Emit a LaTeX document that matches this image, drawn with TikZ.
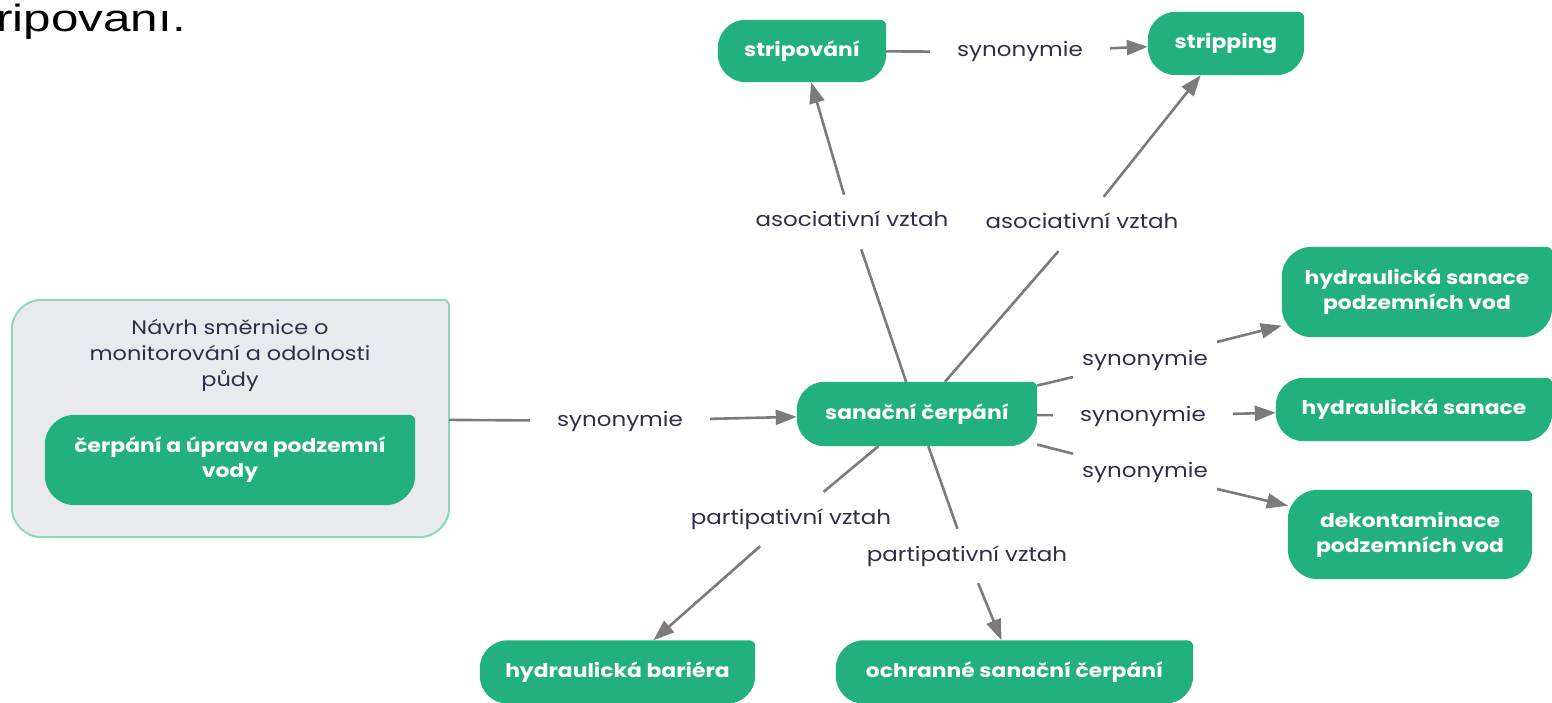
\documentclass[tikz,border=0pt]{standalone}
\usepackage{fontspec}
\setmainfont{Poppins}[FakeStretch=1.15]
\newfontfamily\arialf{Liberation Sans}[FakeStretch=1.3]
\usetikzlibrary{arrows.meta,calc,backgrounds}
\definecolor{boxgreen}{HTML}{22B07D}
\definecolor{edgegrey}{HTML}{7B7B7B}
\definecolor{labtext}{HTML}{2E2E48}
\definecolor{panelfill}{HTML}{E9EAEE}
\definecolor{panelline}{HTML}{8ED8B9}
\newcommand\boxshape[3]{%
  \path[#3] let \p1=(#1.north west), \p2=(#1.south east) in
    (\x1,\y2+#2pt) -- (\x1,\y1-#2pt) arc[start angle=180,end angle=90,radius=#2pt]
    -- (\x2-6pt,\y1) arc[start angle=90,end angle=0,radius=6pt]
    -- (\x2,\y2+#2pt) arc[start angle=0,end angle=-90,radius=#2pt]
    -- (\x1+#2pt,\y2) arc[start angle=270,end angle=180,radius=#2pt] -- cycle;}
\tikzset{
  term/.style={text=white, font=\fontsize{19}{25}\selectfont\bfseries, align=center, inner sep=0pt},
  rel/.style={text=labtext, font=\fontsize{20}{24}\selectfont, inner xsep=27pt, inner ysep=18pt, text height=14pt, text depth=4pt},
  link/.style={draw=edgegrey, line width=2.6pt},
  arr/.style={link, -{Triangle[length=21pt,width=15pt]}},
}
\begin{document}
\begin{tikzpicture}[x=1pt,y=-1pt]
\useasboundingbox (0,0) rectangle (1552,703);
\clip (0,0) rectangle (1552,703);
% fragment of a heading
\node[anchor=base east, font=\arialf\fontsize{38}{46}\selectfont, inner sep=0pt] (frag) at (186,32) {stripovanı.};
% terms
\node[term, minimum width=168pt, minimum height=62pt] (strip) at (802,51) {stripování};
\node[term, minimum width=156pt, minimum height=63pt] (stripping) at (1226,43.5) {stripping};
\node[term, minimum width=240pt, minimum height=64pt] (sanacni) at (917,414) {sanační čerpání};
\node[term, minimum width=270pt, minimum height=90pt] (hsvod) at (1417,292) {hydraulická sanace\\podzemních vod};
\node[term, minimum width=276pt, minimum height=63pt] (hsan) at (1414,409.5) {hydraulická sanace};
\node[term, minimum width=244pt, minimum height=89pt] (dekont) at (1410,534.5) {dekontaminace\\podzemních vod};
\node[term, minimum width=275pt, minimum height=63pt] (bariera) at (617.5,672) {hydraulická bariéra};
\node[term, minimum width=357pt, minimum height=63pt] (ochr) at (1014.5,672) {ochranné sanační čerpání};
% source panel
\node[minimum width=437pt, minimum height=237pt, inner sep=0pt] (panel) at (230.5,418.5) {};
\node[text=labtext, font=\fontsize{19.5}{26}\selectfont, align=center] (paneltitle) at (230,355) {Návrh směrnice o\\monitorování a odolnosti\\půdy};
\node[term, minimum width=370pt, minimum height=90pt] (source) at (230,460) {čerpání a úprava podzemní\\vody};
% relation labels
\node[rel] (synT) at (1020,52) {synonymie};
\node[rel] (synL) at (620,421) {synonymie};
\node[rel] (asL) at (852,222) {asociativní vztah};
\node[rel] (asR) at (1082,224) {asociativní vztah};
\node[rel, inner xsep=9pt] (syn1) at (1145,360) {synonymie};
\node[rel] (syn2) at (1143,416) {synonymie};
\node[rel, inner xsep=9pt] (syn3) at (1145,472) {synonymie};
\node[rel] (partL) at (791,519) {partipativní vztah};
\node[rel] (partR) at (967,556) {partipativní vztah};
% shapes
\begin{scope}[on background layer]
  \boxshape{panel}{30}{fill=panelfill, draw=panelline, line width=2pt}
  \boxshape{source}{30}{fill=boxgreen}
  \boxshape{strip}{28}{fill=boxgreen}
  \boxshape{stripping}{28}{fill=boxgreen}
  \boxshape{sanacni}{28}{fill=boxgreen}
  \boxshape{hsvod}{30}{fill=boxgreen}
  \boxshape{hsan}{28}{fill=boxgreen}
  \boxshape{dekont}{30}{fill=boxgreen}
  \boxshape{bariera}{28}{fill=boxgreen}
  \boxshape{ochr}{28}{fill=boxgreen}
\end{scope}
% connectors
\draw[link] (strip) -- (synT);   \draw[arr] (synT) -- (stripping);
\draw[link] (panel) -- (synL);   \draw[arr] (synL) -- (sanacni);
\draw[link] (sanacni) -- (asL);  \draw[arr] (asL) -- (strip);
\draw[link] (sanacni) -- (asR);  \draw[arr] (asR) -- (stripping);
\draw[link] (sanacni) -- (syn1); \draw[arr] (syn1) -- (hsvod);
\draw[link] (sanacni) -- (syn2); \draw[arr] (syn2) -- (hsan);
\draw[link] (sanacni) -- (syn3); \draw[arr] (syn3) -- (dekont);
\draw[link] (sanacni) -- (partL); \draw[arr] (partL) -- (bariera);
\draw[link] (sanacni) -- (partR); \draw[arr] (partR) -- (ochr);
\end{tikzpicture}
\end{document}
